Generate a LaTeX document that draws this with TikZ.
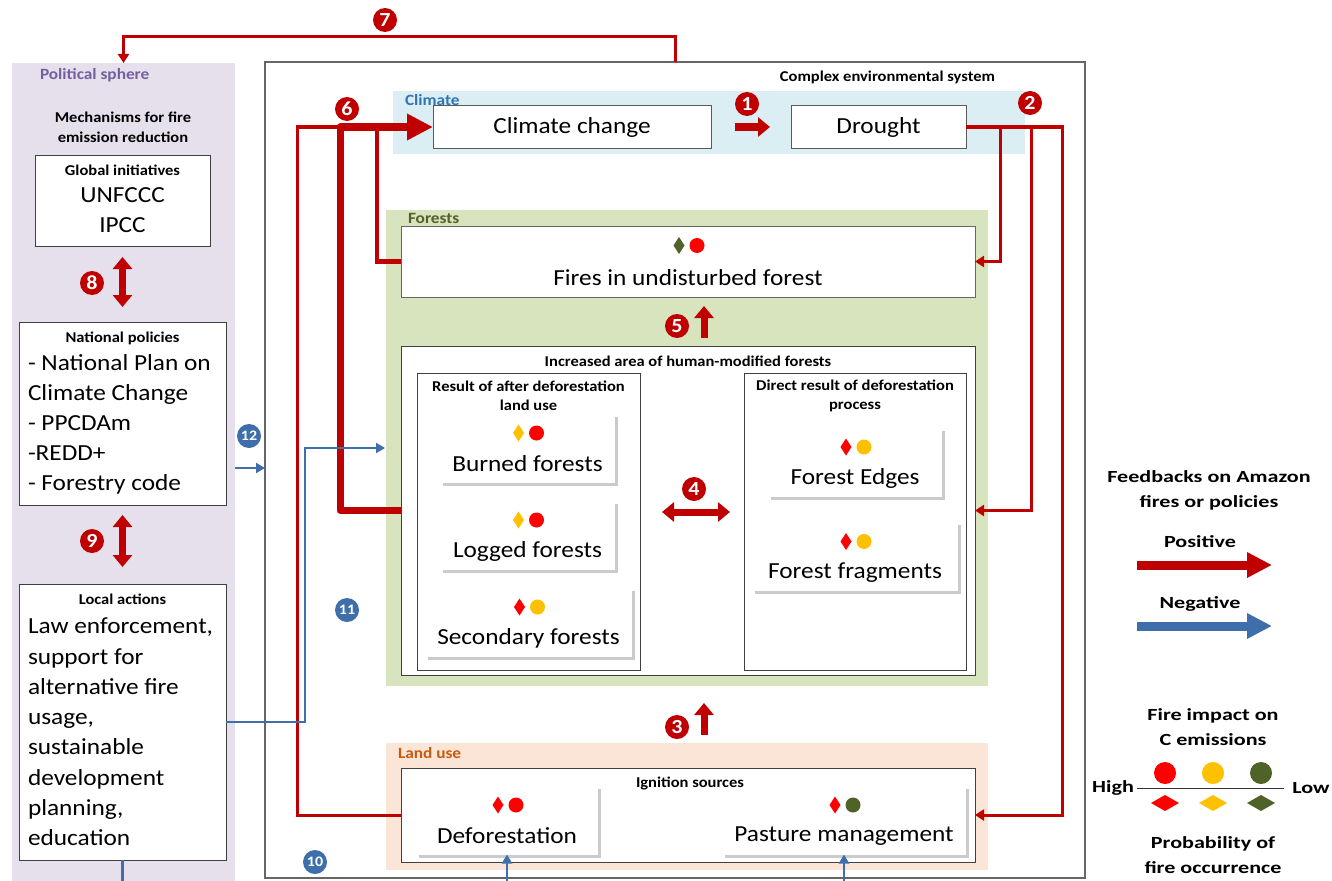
\documentclass[tikz,border=0pt]{standalone}
\usepackage{fontspec}
\setmainfont{Carlito}[FakeStretch=1.1]
\newfontfamily\legendfont{Carlito}[FakeStretch=1.3]
\usetikzlibrary{arrows.meta,positioning,shadows}

\definecolor{fbred}{HTML}{C00000}
\definecolor{fbblue}{HTML}{3F6FAA}
\definecolor{polfill}{HTML}{E5E0EC}
\definecolor{polpurple}{HTML}{7460A0}
\definecolor{climfill}{HTML}{DBEEF4}
\definecolor{climblue}{HTML}{2E75B6}
\definecolor{forfill}{HTML}{D7E4BD}
\definecolor{forgreen}{HTML}{4F6228}
\definecolor{landfill}{HTML}{FBE5D6}
\definecolor{landbrown}{HTML}{C55A11}
\definecolor{firered}{HTML}{FF0000}
\definecolor{fireyellow}{HTML}{FFC000}
\definecolor{firegreen}{HTML}{4F6228}

\newcommand{\fsz}[2]{\fontsize{#1}{#2}\selectfont}
% diamond = probability of occurrence, dot = impact on emissions
\newcommand{\firemarks}[4]{%
  \fill[#3] ([xshift=-9pt,yshift=#2pt]#1.center) +(0pt,8.5pt) -- +(5.5pt,0pt) -- +(0pt,-8.5pt) -- +(-5.5pt,0pt) -- cycle;
  \fill[#4] ([xshift=9pt,yshift=#2pt]#1.center) circle (7.5pt);}

\begin{document}
\begin{tikzpicture}[x=1pt,y=-1pt,
  every node/.style={inner sep=0pt,outer sep=0pt},
  sized/.style 2 args={minimum width=#1pt,minimum height=#2pt},
  panel/.style={rectangle},
  box/.style={draw=black!75,line width=1pt,fill=white},
  card/.style={fill=white,minimum height=69pt,drop shadow={shadow xshift=3pt,shadow yshift=-3pt,fill=black!40,opacity=0.5}},
  tag/.style={font=\bfseries\fsz{15.7}{18},anchor=west},
  head/.style={font=\bfseries\fsz{15}{19.5},align=center},
  body/.style={font=\fsz{23}{30}},
  num/.style={circle,fill=fbred,text=white,minimum size=24pt,font=\bfseries\fsz{20}{20}},
  numb/.style={num,fill=fbblue,font=\bfseries\fsz{14.5}{15}},
  posline/.style={draw=fbred,line width=3pt},
  posarrow/.style={posline,-{Triangle[length=9pt,width=11pt]}},
  negarrow/.style={draw=fbblue,line width=2.6pt,-{Triangle[length=9pt,width=10pt]}},
  fat/.style={draw=fbred,line width=7pt,-{Triangle[length=12pt,width=19pt]}},
  fatboth/.style={draw=fbred,line width=7pt,{Triangle[length=12pt,width=19pt]}-{Triangle[length=12pt,width=19pt]}},
  legarrow/.style={line width=9pt,-{Triangle[length=25pt,width=24pt]}},
  legend/.style={font=\legendfont\bfseries\fsz{17}{25},align=center}
]
\path[use as bounding box,clip] (0,0) rectangle (1332,880);
\fill[white] (0,0) rectangle (1332,880);

% panels and bands
\node[panel,fill=polfill,sized={223}{826}] (pol) at (123.5,476) {};
\node[panel,draw=black!60,line width=1.3pt,sized={820}{816}] (cx) at (675,470) {};
\node[panel,fill=climfill,sized={632}{63}] (climband) at (709,122.5) {};
\node[panel,fill=forfill,sized={602}{476}] (forband) at (687,448) {};
\node[panel,fill=landfill,sized={602}{127}] (landband) at (687,806.5) {};

\node[tag,text=polpurple] (poltag) at ([xshift=28pt,yshift=-12pt]pol.north west) {Political sphere};
\node[tag,text=climblue] (climtag) at ([xshift=12pt,yshift=-9pt]climband.north west) {Climate};
\node[tag,text=forgreen] (fortag) at ([xshift=22pt,yshift=-8pt]forband.north west) {Forests};
\node[tag,text=landbrown] (landtag) at ([xshift=12pt,yshift=-10pt]landband.north west) {Land use};
\node[head,anchor=east] (cxtag) at ([xshift=-90pt,yshift=-15pt]cx.north east) {Complex environmental system};

% political sphere
\node[head] (mech) at (123,127.5) {Mechanisms for fire\\emission reduction};
\node[box,sized={175}{91}] (glob) at (122.5,200.5) {};
\node[head] (globtag) at ([yshift=-15pt]glob.north) {Global initiatives};
\node[body,align=center] (globtxt) at ([yshift=-10pt]glob.center) {UNFCCC\\IPCC};
\node[box,sized={207}{183}] (nat) at (122.5,413.5) {};
\node[head] (nattag) at ([yshift=-16pt]nat.north) {National policies};
\node[body,align=left,anchor=north west] (nattxt) at ([xshift=9pt,yshift=-33pt]nat.north west) {- National Plan on\\Climate Change\\- PPCDAm\\-REDD+\\- Forestry code};
\node[box,sized={207}{276}] (loc) at (122.5,722) {};
\node[head] (loctag) at ([yshift=-15pt]loc.north) {Local actions};
\node[body,align=left,anchor=north west,font=\fsz{23}{30.3}] (loctxt) at ([xshift=9pt,yshift=-34pt]loc.north west) {Law enforcement,\\support for\\alternative fire\\usage,\\sustainable\\development\\planning,\\education};

% climate
\node[box,body,draw=black!65,sized={278}{42}] (clim) at (572,127) {Climate change};
\node[box,body,draw=black!65,sized={175}{42}] (drought) at (878.5,127) {Drought};

% forests
\node[box,draw=black!60,sized={574}{71}] (fires) at (688,261.5) {};
\node[body] (firestxt) at ([yshift=-16pt]fires.center) {Fires in undisturbed forest};
\firemarks{fires}{16}{firegreen}{firered}
\node[box,sized={574}{329}] (hum) at (688,510.5) {};
\node[head] (humtag) at ([yshift=-15pt]hum.north) {Increased area of human-modified forests};
\node[box,sized={223}{297}] (after) at (528.5,521.5) {};
\node[head] (aftertag) at ([yshift=-23pt]after.north) {Result of after deforestation\\land use};
\node[box,sized={222}{297}] (direct) at (855,521.5) {};
\node[head] (directtag) at ([yshift=-23pt]direct.north) {Direct result of deforestation\\process};

% land use
\node[box,sized={574}{94}] (ign) at (688,815) {};

% cards with fire marks
\foreach \nm/\cx/\cy/\w/\txt/\dc/\cc in {
  burned/527.5/448/175/Burned forests/fireyellow/firered,
  logged/527.5/535/175/Logged forests/fireyellow/firered,
  second/528.5/622/207/Secondary forests/firered/fireyellow,
  edges/855/462/174/Forest Edges/firered/fireyellow,
  frags/855/556.5/206/Forest fragments/firered/fireyellow,
  defo/507/820/182/Deforestation/firered/firered,
  past/844/820/244/Pasture management/firered/firegreen}{
  \node[card,minimum width=\w pt] (\nm) at (\cx,\cy) {};
  \node[body] (\nm-t) at ([yshift=-16pt]\nm.center) {\txt};
  \firemarks{\nm}{15}{\dc}{\cc}
}
\node[head] (igntag) at ([xshift=2pt,yshift=-15pt]ign.north) {Ignition sources};

% positive feedbacks
\draw[fat,shorten <=24pt,shorten >=21pt] (clim.east) -- (drought.west);
\node[num] (n1) at (747,104) {1};

\coordinate (d1) at ([xshift=34pt]drought.east);
\coordinate (d2) at ([xshift=65pt]drought.east);
\coordinate (d3) at ([xshift=96pt]drought.east);
\draw[posarrow] (drought.east) -- (d3) |- (ign.east);
\draw[posarrow] (d1) |- (fires.east);
\draw[posarrow] (d2) |- (hum.east);
\node[num] (n2) at (1030,103) {2};

\draw[fat,shorten <=33pt,shorten >=28pt] ([xshift=16pt]ign.north) -- ([xshift=16pt]hum.south);
\node[num] (n3) at (677,727) {3};

\draw[fatboth,shorten <=22pt,shorten >=14pt] ([yshift=9.5pt]after.east) -- ([yshift=9.5pt]direct.west);
\node[num] (n4) at (694,489) {4};

\draw[fat,shorten <=8pt,shorten >=9pt] ([xshift=16pt]hum.north) -- ([xshift=16pt]fires.south);
\node[num] (n5) at (677,326) {5};

\coordinate (outer6) at (297,127);
\coordinate (bus6) at (340,127);
\coordinate (mid6) at (377,127);
\draw[posline] (ign.west) -| (outer6) -- (bus6);
\draw[posline,line width=4.5pt] (fires.west) -| (mid6);
\draw[draw=fbred,line width=7pt,line join=round,-{Triangle[length=26pt,width=25pt]}] (hum.west) -| (bus6) -- (clim.west);
\node[num] (n6) at (347,109) {6};

\draw[posarrow] (cx.north) -- ++(0,-25) -| (pol.north);
\node[num] (n7) at (385,20) {7};

\draw[fatboth,shorten <=11pt,shorten >=15pt] (glob.south) -- (nat.north);
\node[num] (n8) at (92,283) {8};
\draw[fatboth,shorten <=10pt,shorten >=17pt] (nat.south) -- (loc.north);
\node[num] (n9) at (92,541) {9};

% negative feedbacks
\coordinate (low10) at (122.5,898);
\draw[negarrow] (loc.south) -- (low10) -| (defo.south);
\draw[negarrow] (low10) -| (past.south);
\node[numb] (n10) at (315,862) {10};

\coordinate (turn11) at (305,448);
\coordinate (in11) at (385,448);
\draw[negarrow] (loc.east) -| (turn11) -- (in11);
\node[numb] (n11) at (347,610) {11};

\draw[negarrow] ([yshift=8pt]pol.east) -- ([yshift=2pt]cx.west);
\node[numb] (n12) at (249,436) {12};

% legend
\node[legend] (fbtag) at (1209,490) {Feedbacks on Amazon\\fires or policies};
\node[legend] (postag) at (1200,542) {Positive};
\coordinate (posA) at (1137,565);
\coordinate (posB) at (1272,565);
\draw[legarrow,draw=fbred] (posA) -- (posB);
\node[legend] (negtag) at (1200,604) {Negative};
\coordinate (negA) at (1137,626);
\coordinate (negB) at (1272,626);
\draw[legarrow,draw=fbblue] (negA) -- (negB);
\node[legend] (imptag) at (1213,727) {Fire impact on\\C emissions};
\node[legend] (hightag) at (1113,788) {High};
\node[legend] (lowtag) at (1311,788) {Low};
\draw[black!80,line width=1pt] ([xshift=3pt]hightag.east) -- ([xshift=-8pt]lowtag.west);
\foreach \c [count=\i] in {firered,fireyellow,firegreen} {
  \fill[\c] (1117+48*\i,773) circle (11pt);
  \fill[\c] (1117+48*\i,803) +(-14pt,0pt) -- +(0pt,8pt) -- +(14pt,0pt) -- +(0pt,-8pt) -- cycle;
}
\node[legend] (probtag) at (1213,855) {Probability of\\fire occurrence};
\end{tikzpicture}
\end{document}
